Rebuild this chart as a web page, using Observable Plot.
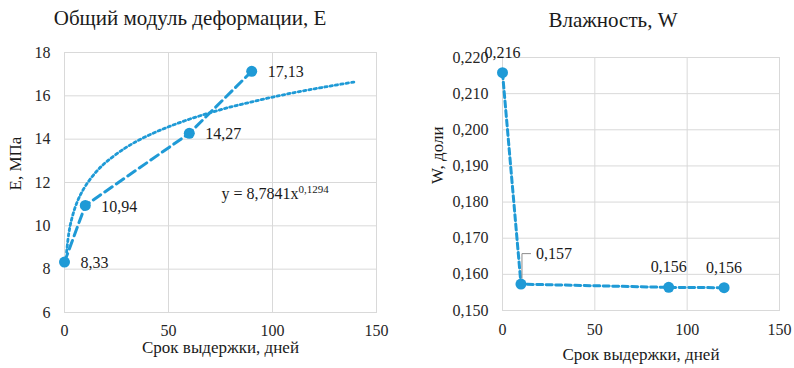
<!DOCTYPE html>
<html><head><meta charset="utf-8">
<script src="https://cdn.jsdelivr.net/npm/d3@7"></script>
<script src="https://cdn.jsdelivr.net/npm/@observablehq/plot@0.6"></script>
<style>
body{margin:0;background:#fff;}
#wrap{position:relative;width:794px;height:368px;overflow:hidden;font-family:"Liberation Serif","Times New Roman",Times,"DejaVu Serif",serif;color:#1a1a1a;}
.title{position:absolute;text-align:center;font-size:21px;line-height:24px;white-space:nowrap;}
.chart{position:absolute;top:30px;width:397px;height:338px;}
</style></head><body>
<div id="wrap">
 <div class="title" id="t1" style="left:0;width:380px;top:6px"></div>
 <div class="title" id="t2" style="left:497px;width:232px;top:8px"></div>
 <div class="chart" id="c1" style="left:0"></div>
 <div class="chart" id="c2" style="left:397px"></div>
</div>
<script>
// ---- data ----
const titleE = "Общий модуль деформации, E";
const titleW = "Влажность, W";
const xLabel = "Срок выдержки, дней";
const eLabel = "E, МПа";
const wLabel = "W, доли";
const equationText = "y = 8,7841x^0,1294";

const days = [0, 10, 60, 90];
const modulusE = [8.33, 10.94, 14.27, 17.13];
const trendDays = [1, 2, 3, 5, 7, 10, 15, 20, 30, 40, 50, 60, 70, 80, 90, 100, 110, 120, 130, 140];
const trendE = [8.78, 9.61, 10.13, 10.82, 11.30, 11.83, 12.47, 12.94, 13.64, 14.16, 14.57, 14.92, 15.22, 15.49, 15.72, 15.94, 16.14, 16.32, 16.49, 16.65];

const wDays = [0, 10, 90, 120];
const moistureW = [0.2158, 0.1573, 0.1564, 0.1563];

const xTicks = [0, 50, 100, 150];
const eTicks = [6, 8, 10, 12, 14, 16, 18];
const wTicks = [0.15, 0.16, 0.17, 0.18, 0.19, 0.20, 0.21, 0.22];

// ---- styling ----
const blue = "#1f9ad6";
const grid = "#d9d9d9";
const ns = "http://www.w3.org/2000/svg";
const fmt2 = v => v.toFixed(2).replace(".", ",");
const fmt3 = v => v.toFixed(3).replace(".", ",");
const baseStyle = {fontFamily: '"Liberation Serif", "Times New Roman", Times, "DejaVu Serif", serif', fontSize: "16px", color: "#262626", background: "transparent", overflow: "visible"};

document.getElementById("t1").textContent = titleE;
document.getElementById("t2").textContent = titleW;

const e = days.map((d, i) => ({day: d, value: modulusE[i]}));
const trend = trendDays.map((d, i) => ({day: d, value: trendE[i]}));
const w = wDays.map((d, i) => ({day: d, value: moistureW[i]}));

const plotE = Plot.plot({
  width: 397, height: 338,
  marginLeft: 64, marginRight: 21, marginTop: 22, marginBottom: 56,
  style: baseStyle,
  x: {domain: [0, 150]},
  y: {domain: [6, 18]},
  marks: [
    Plot.gridX({ticks: xTicks, stroke: grid, strokeOpacity: 1}),
    Plot.gridY({ticks: eTicks, stroke: grid, strokeOpacity: 1}),
    Plot.frame({stroke: grid}),
    Plot.axisX({ticks: xTicks, tickSize: 0, tickPadding: 12, label: null, fontSize: 16}),
    Plot.axisY({ticks: eTicks, tickSize: 0, tickPadding: 14, label: null, fontSize: 16}),
    Plot.text([xLabel], {text: d => d, frameAnchor: "bottom", dy: 40, fontSize: 17, fill: "#1a1a1a"}),
    Plot.text([eLabel], {text: d => d, frameAnchor: "left", rotate: -90, dx: -49, dy: 8, fontSize: 17, fill: "#1a1a1a"}),
    Plot.line(trend, {x: "day", y: "value", stroke: blue, strokeWidth: 2.8, strokeDasharray: "2.4,3", curve: "catmull-rom"}),
    Plot.line(e, {x: "day", y: "value", stroke: blue, strokeWidth: 3, strokeDasharray: "9,5"}),
    Plot.dot(e, {x: "day", y: "value", r: 5.5, fill: blue}),
    Plot.text(e, {x: "day", y: "value", text: d => fmt2(d.value), textAnchor: "start", dx: 16, dy: 1, fontSize: 16, fill: "#1a1a1a"}),
    Plot.text([equationText], {text: d => d, frameAnchor: "left", dx: 157, dy: 11, textAnchor: "start", fontSize: 16, fill: "#1a1a1a"})
  ]
});
plotE.querySelectorAll("text").forEach(t => {
  if (t.textContent.includes("^")) {
    const [a, b] = t.textContent.split("^");
    t.textContent = a;
    const ts = document.createElementNS(ns, "tspan");
    ts.setAttribute("dy", "-6");
    ts.setAttribute("font-size", "11");
    ts.textContent = b;
    t.appendChild(ts);
  }
});
document.getElementById("c1").appendChild(plotE);

const leader = (index, scales) => {
  const d = w[1];
  const px = scales.x(d.day), py = scales.y(d.value);
  const path = document.createElementNS(ns, "path");
  path.setAttribute("d", `M${px + 1.5},${py - 5}V${py - 30}h9`);
  path.setAttribute("fill", "none");
  path.setAttribute("stroke", "#8c8c8c");
  path.setAttribute("stroke-width", "1");
  return path;
};

const plotW = Plot.plot({
  width: 397, height: 338,
  marginLeft: 105, marginRight: 15, marginTop: 27, marginBottom: 58,
  style: baseStyle,
  x: {domain: [0, 150]},
  y: {domain: [0.15, 0.22]},
  marks: [
    Plot.gridX({ticks: xTicks, stroke: grid, strokeOpacity: 1}),
    Plot.gridY({ticks: wTicks, stroke: grid, strokeOpacity: 1}),
    Plot.frame({stroke: grid}),
    Plot.axisX({ticks: xTicks, tickSize: 0, tickPadding: 13, label: null, fontSize: 16}),
    Plot.axisY({ticks: wTicks, tickSize: 0, tickPadding: 14, tickFormat: fmt3, label: null, fontSize: 16}),
    Plot.text([xLabel], {text: d => d, frameAnchor: "bottom", dy: 49, fontSize: 17, fill: "#1a1a1a"}),
    Plot.text([wLabel], {text: d => d, frameAnchor: "left", rotate: -90, dx: -65, fontSize: 17, fill: "#1a1a1a"}),
    Plot.line(w, {x: "day", y: "value", stroke: blue, strokeWidth: 3, strokeDasharray: "6,3.5"}),
    Plot.dot(w, {x: "day", y: "value", r: 5.5, fill: blue}),
    leader,
    Plot.text(w.filter((d, i) => i !== 1), {x: "day", y: "value", text: d => fmt3(d.value), dy: -20, fontSize: 16, fill: "#1a1a1a"}),
    Plot.text(w.filter((d, i) => i === 1), {x: "day", y: "value", text: d => fmt3(d.value), textAnchor: "start", dx: 15, dy: -30, fontSize: 16, fill: "#1a1a1a"})
  ]
});
document.getElementById("c2").appendChild(plotW);
</script>
</body></html>
